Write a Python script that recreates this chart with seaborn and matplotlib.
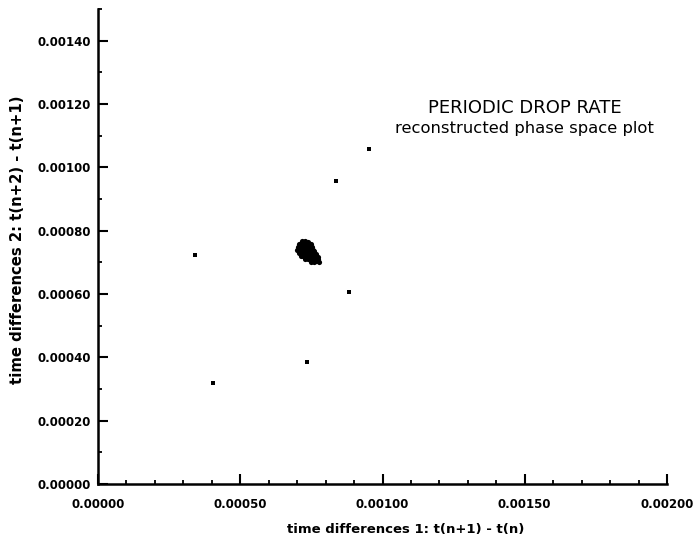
import matplotlib
matplotlib.use("Agg")
import matplotlib.pyplot as plt
from matplotlib.ticker import MultipleLocator, FormatStrFormatter
import seaborn as sns
import pandas as pd

# Successive inter-drop intervals (seconds): dense periodic cluster
cluster_x = [0.000716, 0.000727, 0.000738,
             0.000705, 0.000715, 0.000726, 0.000736, 0.000748,
             0.000702, 0.000713, 0.000722, 0.000734, 0.000745, 0.000753,
             0.000701, 0.000712, 0.000724, 0.000733, 0.000743, 0.000755, 0.000760,
             0.000706, 0.000716, 0.000727, 0.000737, 0.000746, 0.000757, 0.000767,
             0.000712, 0.000722, 0.000734, 0.000744, 0.000755, 0.000764, 0.000774,
             0.000726, 0.000738, 0.000747, 0.000757, 0.000768, 0.000775,
             0.000748, 0.000758, 0.000768, 0.000777]
cluster_y = [0.000766, 0.000768, 0.000765,
             0.000757, 0.000759, 0.000758, 0.000756, 0.000757,
             0.000748, 0.000747, 0.000749, 0.000748, 0.000746, 0.000748,
             0.000739, 0.000740, 0.000738, 0.000739, 0.000740, 0.000738, 0.000737,
             0.000729, 0.000730, 0.000728, 0.000729, 0.000730, 0.000728, 0.000727,
             0.000720, 0.000721, 0.000719, 0.000720, 0.000721, 0.000719, 0.000718,
             0.000711, 0.000712, 0.000710, 0.000711, 0.000710, 0.000709,
             0.000702, 0.000701, 0.000703, 0.000701]

# Isolated intervals away from the periodic orbit
stray_x = [0.000340, 0.000835, 0.000954, 0.000881, 0.000733, 0.000404]
stray_y = [0.000723, 0.000957, 0.001058, 0.000606, 0.000385, 0.000319]

xtick_values = [0.0, 0.0005, 0.0010, 0.0015, 0.0020]
ytick_values = [0.0, 0.0002, 0.0004, 0.0006, 0.0008, 0.0010, 0.0012, 0.0014]

sns.set_style("ticks")
plt.rcParams["font.family"] = ["DejaVu Sans"]
plt.rcParams["text.color"] = "black"
plt.rcParams["axes.labelcolor"] = "black"
plt.rcParams["xtick.color"] = "black"
plt.rcParams["ytick.color"] = "black"

df_cluster = pd.DataFrame({"dt1": cluster_x, "dt2": cluster_y})
df_stray = pd.DataFrame({"dt1": stray_x, "dt2": stray_y})

fig = plt.figure(figsize=(6.99, 5.48), dpi=100)
ax = fig.add_axes([98 / 699, 1 - 484 / 548, 569 / 699, 475 / 548])

sns.scatterplot(data=df_cluster, x="dt1", y="dt2", ax=ax, color="black",
                s=14, linewidth=0, marker="o")
sns.scatterplot(data=df_stray, x="dt1", y="dt2", ax=ax, color="black",
                s=9, linewidth=0, marker="s")

ax.set_xlim(0, 0.0020)
ax.set_ylim(0, 0.0015)
ax.set_xticks(xtick_values)
ax.set_yticks(ytick_values)
ax.xaxis.set_minor_locator(MultipleLocator(0.0001))
ax.yaxis.set_minor_locator(MultipleLocator(0.0001))
ax.xaxis.set_major_formatter(FormatStrFormatter("%.5f"))
ax.yaxis.set_major_formatter(FormatStrFormatter("%.5f"))

for side in ("top", "right"):
    ax.spines[side].set_visible(False)
for side in ("left", "bottom"):
    ax.spines[side].set_linewidth(1.8)
    ax.spines[side].set_color("black")

ax.tick_params(which="major", direction="in", length=7, width=1.5,
               colors="black", labelsize=8.5)
ax.tick_params(axis="x", which="major", pad=10)
ax.tick_params(axis="y", which="major", pad=5)
ax.tick_params(which="minor", direction="in", length=3, width=1.3,
               colors="black")
for lab in ax.get_xticklabels() + ax.get_yticklabels():
    lab.set_fontweight("bold")
    lab.set_color("black")

ax.set_xlabel("time differences 1: t(n+1) - t(n)", fontsize=9.5,
              fontweight="bold", color="black")
ax.set_ylabel("time differences 2: t(n+2) - t(n+1)", fontsize=10.7,
              fontweight="bold", color="black")
ax.xaxis.set_label_coords(0.54, -0.082)
ax.yaxis.set_label_coords(-0.128, 0.514)

ax.text(0.750, 0.792, "PERIODIC DROP RATE", transform=ax.transAxes,
        ha="center", va="center", fontsize=13, color="black")
ax.text(0.750, 0.749, "reconstructed phase space plot", transform=ax.transAxes,
        ha="center", va="center", fontsize=11.8, color="black")

fig.savefig("out.png", dpi=100, facecolor="white")
